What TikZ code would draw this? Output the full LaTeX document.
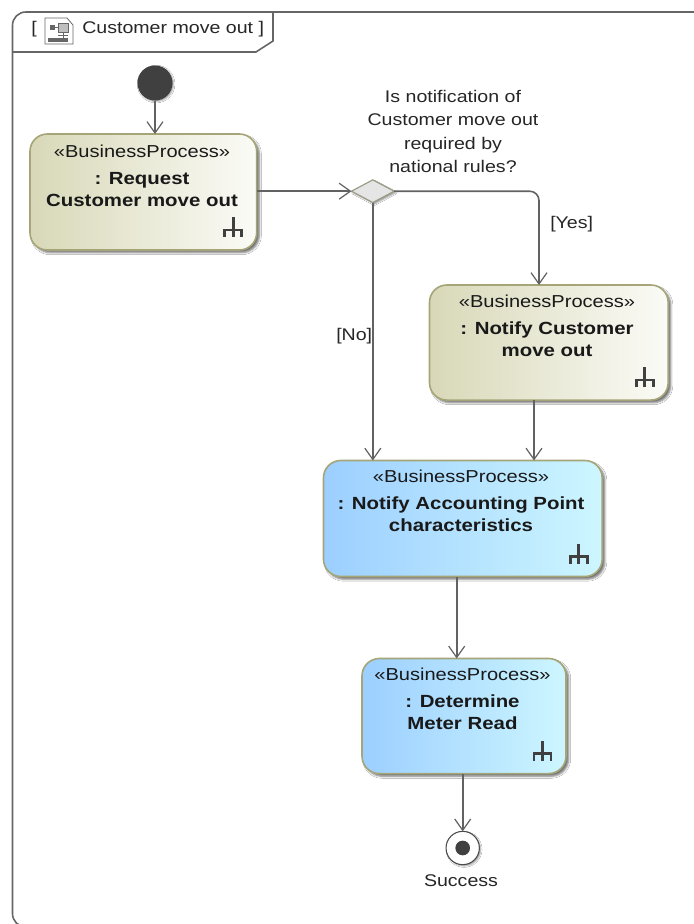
\documentclass[tikz,border=0pt]{standalone}
\usepackage{xcolor}
\usepackage{fontspec}
\setmainfont[FakeStretch=1.16]{Liberation Sans}
\usetikzlibrary{shapes.geometric, arrows.meta, positioning, calc, shadows.blur}
\definecolor{frameline}{HTML}{666666}
\definecolor{flowline}{HTML}{626262}
\definecolor{boxline}{HTML}{A5A578}
\definecolor{olivelow}{HTML}{D8D8B8}
\definecolor{olivehigh}{HTML}{FBFBF7}
\definecolor{bluelow}{HTML}{9CCFFF}
\definecolor{bluehigh}{HTML}{CDF6FF}
\definecolor{nodedark}{HTML}{404040}
\tikzset{
  x=0.75pt, y=-0.75pt,
  flow/.style={draw=flowline, line width=1.2pt, -{Straight Barb[length=8.5pt,width=12pt,line width=0.9pt]}},
  process/.style={draw=boxline, line width=1.2pt, rounded corners=13pt, anchor=north west, inner sep=0pt, outer sep=0pt,
    blur shadow={shadow blur steps=4, shadow xshift=2pt, shadow yshift=-2pt, shadow blur radius=1.5pt, shadow opacity=55}},
  olivebox/.style={process, shade, shading angle=70, left color=olivelow, right color=olivehigh},
  bluebox/.style={process, shade, shading angle=70, left color=bluelow, right color=bluehigh},
  plain/.style={font=\fontsize{12.66pt}{17.5pt}\selectfont, align=center, text=black!85, inner sep=0pt},
  proctext/.style={font=\fontsize{13.2pt}{16.5pt}\selectfont\bfseries, align=center, text=black!90, inner sep=0pt, anchor=north},
}
% stereotype line above the bold name
\newcommand{\stereotext}{{\fontsize{12.97pt}{16.5pt}\selectfont\mdseries «BusinessProcess»}\\[3.5pt]}
\begin{document}
\begin{tikzpicture}
  \useasboundingbox (0,0) rectangle (693,924);
  \fill[white] (0,0) rectangle (693,924);
  % diagram frame, cut by the page on the right and at the bottom
  \draw[frameline, line width=1.2pt, rounded corners=10pt] (705,12) -- (12.5,12) -- (12.5,927) -- (705,927);
  \draw[frameline, line width=1.2pt] (12.5,52) -- (256,52) -- (273,41) -- (273,12);
  \node[plain, anchor=west] (frametitle) at (82,29) {Customer move out ]};
  \node[plain, anchor=west] (framebracket) at (31,29) {[};
  % small activity icon
  \draw[frameline, line width=0.6pt, fill=white] (45,18) -- (67,18) -- (73,25) -- (73,44) -- (45,44) -- cycle;
  \fill[frameline] (48,38) rectangle (68,42);
  \draw[frameline, line width=0.7pt] (63,32) -- (63,38) (58,35.5) -- (68,35.5) (52,27) -- (58,27);
  \fill[frameline] (50,25) rectangle (55,30);
  \fill[black!25, draw=frameline, line width=0.4pt] (58,23) rectangle (68,32);

  \node[circle, fill=nodedark, minimum size=26.3pt, inner sep=0pt, outer sep=0pt, blur shadow={shadow blur steps=3, shadow xshift=0.8pt, shadow yshift=-0.8pt, shadow blur radius=1pt, shadow opacity=35}] (start) at (155,83) {};

  \node[olivebox, minimum width=170pt, minimum height=87pt] (request) at (30,134) {};
  \node[proctext] (requesttext) at (142,145) {\stereotext : Request\\Customer move out};

  \node[diamond, aspect=2, draw=boxline!70!black!70, line width=0.9pt, fill=black!10, minimum width=32pt, minimum height=17pt, inner sep=0pt, outer sep=0pt,
    blur shadow={shadow blur steps=3, shadow xshift=1.2pt, shadow yshift=-1.2pt, shadow blur radius=1pt, shadow opacity=40}] (decision) at (372.8,191.2) {};
  \node[plain, anchor=south] (question) at (453,173) {Is notification of\\Customer move out\\required by\\national rules?};

  \node[olivebox, minimum width=179pt, minimum height=86.3pt] (notifycustomer) at (429.5,285) {};
  \node[proctext] (notifycustomertext) at (547,295) {\stereotext : Notify Customer\\move out};

  \node[bluebox, minimum width=209pt, minimum height=87pt] (notifypoint) at (323.5,460.5) {};
  \node[proctext] (notifypointtext) at (461,470) {\stereotext : Notify Accounting Point\\characteristics};

  \node[bluebox, minimum width=153pt, minimum height=86.3pt] (meterread) at (362,658.5) {};
  \node[proctext] (meterreadtext) at (462.5,668) {\stereotext : Determine\\Meter Read};

  \node[circle, draw=black!70, line width=0.8pt, fill=white, minimum size=25pt, inner sep=0pt, outer sep=0pt, blur shadow={shadow blur steps=3, shadow xshift=1pt, shadow yshift=-1pt, shadow blur radius=1pt, shadow opacity=40}] (finish) at (462.7,848) {};
  \node[circle, fill=nodedark, minimum size=11pt, inner sep=0pt] (finishdot) at (finish) {};
  \node[plain] (success) at (461,881) {Success};

  % rake marks in the box corners
  \foreach \name in {request, notifycustomer, notifypoint, meterread} {
    \draw[black!75, line width=2pt] ($(\name.south east)+(-23.5,-13)$) -- ++(0,-20)
      ($(\name.south east)+(-32,-13)$) -- ++(0,-7) -- ++(17,0) -- ++(0,7);
  }

  \draw[flow] (start) -- (start |- request.north);
  \draw[flow] (request.east |- decision) -- (decision.west);
  \draw[flow, rounded corners=7pt] (decision.east) -| ($(notifycustomer.north west)+(109.5,0)$);
  \draw[flow] (decision.south) -- (decision.south |- notifypoint.north);
  \draw[flow] ($(notifycustomer.south west)+(104.5,0)$) -- ($(notifypoint.north west)+(210.5,0)$);
  \draw[flow] ($(notifypoint.south west)+(133.2,0)$) -- ($(meterread.north west)+(94.7,0)$);
  \draw[flow] ($(meterread.south west)+(100.7,0)$) -- (finish.north);

  \node[plain, anchor=west] (yeslabel) at (550,224) {[Yes]};
  \node[plain, anchor=west] (nolabel) at (336,336) {[No]};
\end{tikzpicture}
\end{document}
